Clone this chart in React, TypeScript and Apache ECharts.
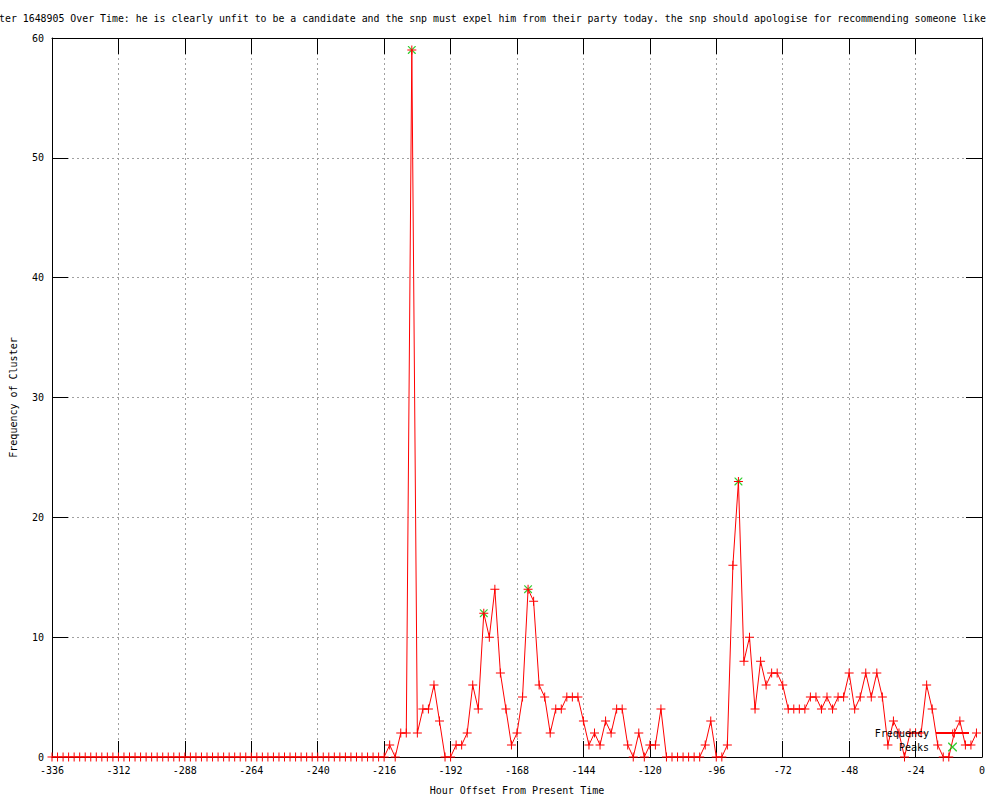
import React, { useEffect, useRef } from "react";
import * as echarts from "echarts";

const titleText =
  "ter 1648905 Over Time: he is clearly unfit to be a candidate and the snp must expel him from their party today. the snp should apologise for recommending someone like";
const xAxisName = "Hour Offset From Present Time";
const yAxisName = "Frequency of Cluster";
const seriesNames = ["Frequency", "Peaks"];

const startHour = -336;
const hourStep = 2;

// frequency per 2-hour bucket, from -336 to -2
const frequency = [
  0, 0, 0, 0, 0, 0, 0, 0, 0, 0, 0, 0, 0, 0, 0, 0, 0, 0, 0, 0,
  0, 0, 0, 0, 0, 0, 0, 0, 0, 0, 0, 0, 0, 0, 0, 0, 0, 0, 0, 0,
  0, 0, 0, 0, 0, 0, 0, 0, 0, 0, 0, 0, 0, 0, 0, 0, 0, 0, 0, 0, 0,
  1, 0, 2, 2, 59, 2, 4, 4, 6, 3, 0, 0, 1, 1, 2, 6, 4, 12, 10, 14,
  7, 4, 1, 2, 5, 14, 13, 6, 5, 2, 4, 4, 5, 5, 5, 3, 1, 2, 1, 3,
  2, 4, 4, 1, 0, 2, 0, 1, 1, 4, 0, 0, 0, 0, 0, 0, 0, 1, 3, 0,
  0, 1, 16, 23, 8, 10, 4, 8, 6, 7, 7, 6, 4, 4, 4, 4, 5, 5, 4, 5,
  4, 5, 5, 7, 4, 5, 7, 5, 7, 5, 1, 3, 2, 0, 2, 2, 2, 6, 4, 1,
  0, 0, 2, 3, 1, 1, 2,
];

const peakHours = [-206, -180, -164, -88];
const peakValues = [59, 12, 14, 23];

const FONT = "'DejaVu Sans Mono', 'Liberation Mono', monospace";
const PLUS = "path://M4,0h1v4h4v1h-4v4h-1v-4h-4v-1h4z";
const CROSS =
  "path://M0,0L1,0L9,8L9,9L8,9L0,1Z M8,0L9,0L9,1L1,9L0,9L0,8Z";

export default function App() {
  const ref = useRef<HTMLDivElement>(null);

  useEffect(() => {
    if (!ref.current) return;
    const chart = echarts.init(ref.current, null, { renderer: "svg" });

    const freqData = frequency.map((v, i) => [startHour + i * hourStep, v]);
    const peakData = peakHours.map((h, i) => [h, peakValues[i]]);

    const axisCommon = {
      axisLine: { show: true, onZero: false, lineStyle: { color: "#000", width: 1 } },
      axisTick: { show: true, inside: true, length: 16, lineStyle: { color: "#000" } },
    };

    chart.setOption({
      animation: false,
      backgroundColor: "#fff",
      title: {
        text: titleText,
        left: -1,
        top: 13,
        padding: 0,
        textStyle: { fontFamily: FONT, fontSize: 9.9, fontWeight: "normal", color: "#000" },
      },
      legend: {
        data: seriesNames,
        orient: "vertical",
        align: "right",
        right: 30,
        top: 728,
        itemWidth: 33,
        itemHeight: 9,
        itemGap: 4,
        padding: 0,
        textStyle: { fontFamily: FONT, fontSize: 10, color: "#000", padding: [0, 2, 0, 0] },
      },
      grid: { left: 49, right: 18, top: 38, bottom: 40, containLabel: false },
      xAxis: [
        {
          type: "value",
          min: -336,
          max: 0,
          interval: 24,
          position: "bottom",
          name: xAxisName,
          nameLocation: "middle",
          nameGap: 28,
          nameTextStyle: { fontFamily: FONT, fontSize: 10, color: "#000" },
          ...axisCommon,
          axisLabel: { fontFamily: FONT, fontSize: 10, color: "#000", margin: 8 },
          splitLine: { show: true, lineStyle: { color: "#a0a0a0", type: [2, 3], width: 1 } },
        },
        {
          type: "value",
          min: -336,
          max: 0,
          interval: 24,
          position: "top",
          ...axisCommon,
          axisLabel: { show: false },
          splitLine: { show: false },
        },
      ],
      yAxis: [
        {
          type: "value",
          min: 0,
          max: 60,
          interval: 10,
          position: "left",
          name: yAxisName,
          nameLocation: "middle",
          nameGap: 34,
          nameTextStyle: { fontFamily: FONT, fontSize: 10, color: "#000" },
          ...axisCommon,
          axisLabel: { fontFamily: FONT, fontSize: 10, color: "#000", margin: 8 },
          splitLine: { show: true, lineStyle: { color: "#a0a0a0", type: [2, 3], width: 1 } },
        },
        {
          type: "value",
          min: 0,
          max: 60,
          interval: 10,
          position: "right",
          ...axisCommon,
          axisLabel: { show: false },
          splitLine: { show: false },
        },
      ],
      series: [
        {
          name: seriesNames[1],
          type: "scatter",
          data: peakData,
          symbol: CROSS,
          symbolSize: 8,
          itemStyle: { color: "#00c000" },
          z: 2,
        },
        {
          name: seriesNames[0],
          type: "line",
          data: freqData,
          symbol: PLUS,
          symbolSize: 9,
          showAllSymbol: true,
          lineStyle: { color: "#ff0000", width: 1 },
          itemStyle: { color: "#ff0000" },
          z: 3,
        },
      ],
    });

    return () => chart.dispose();
  }, []);

  return (
    <div
      ref={ref}
      style={{ position: "fixed", left: 0, top: 0, width: 1000, height: 800 }}
    />
  );
}
